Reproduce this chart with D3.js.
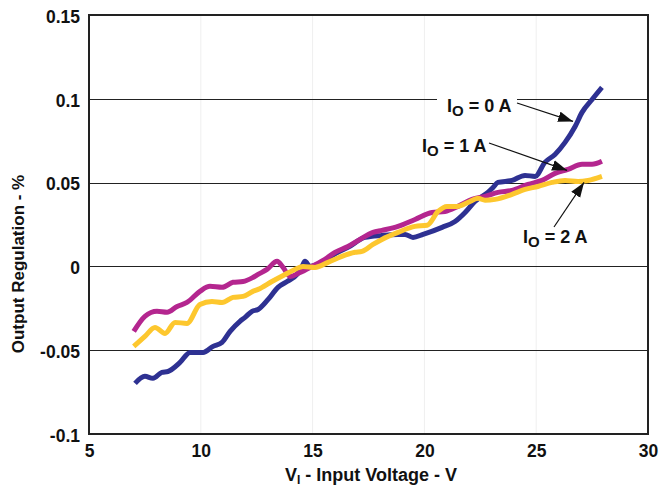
<!DOCTYPE html>
<html>
<head>
<meta charset="utf-8">
<script src="https://cdn.jsdelivr.net/npm/d3@7"></script>
<style>
  html, body { margin: 0; padding: 0; background: #fff; }
  svg { display: block; font-family: "Liberation Sans", Arial, sans-serif; }
</style>
</head>
<body>
<svg id="chart" width="660" height="489"></svg>
<script>
// ---- data ----
const xTicks = [5, 10, 15, 20, 25, 30];
const yTicks = [-0.1, -0.05, 0, 0.05, 0.1, 0.15];
const yTickLabels = ["-0.1", "-0.05", "0", "0.05", "0.1", "0.15"];

const io0X = [7.06, 7.5, 7.86, 8.26, 8.53, 9.07, 9.52, 10.1, 10.55, 10.95, 11.31, 11.75, 11.98, 12.29, 12.56, 13.01, 13.45, 13.86, 14.3, 14.53, 14.66, 14.88, 15.42, 16.0, 16.6, 17.34, 18.1, 18.8, 19.13, 19.49, 19.94, 20.79, 21.37, 21.82, 22.26, 22.84, 23.07, 23.29, 23.92, 24.5, 24.95, 25.39, 25.84, 26.29, 26.74, 27.05, 27.5, 27.94];
const io0Y = [-0.0698, -0.0656, -0.0668, -0.0632, -0.0627, -0.0573, -0.0513, -0.0513, -0.0477, -0.0453, -0.0388, -0.0328, -0.0304, -0.0268, -0.0257, -0.0197, -0.0125, -0.009, -0.0048, 0.0, 0.003, 0.0, 0.0024, 0.0075, 0.0115, 0.0173, 0.0185, 0.0191, 0.0191, 0.0173, 0.0191, 0.0233, 0.0268, 0.0322, 0.0388, 0.0442, 0.0471, 0.0501, 0.0513, 0.0543, 0.0537, 0.0621, 0.0668, 0.074, 0.0835, 0.0919, 0.0996, 0.1068];

const io1X = [7.0, 7.5, 8.04, 8.49, 8.94, 9.38, 9.96, 10.41, 10.95, 11.44, 11.89, 12.33, 12.56, 12.96, 13.41, 13.68, 13.99, 14.44, 14.97, 15.55, 16.0, 16.58, 17.12, 17.7, 18.1, 18.82, 19.58, 20.34, 20.92, 21.5, 22.13, 22.71, 23.29, 23.92, 24.63, 25.26, 25.84, 26.42, 27.05, 27.5, 27.94];
const io1Y = [-0.0388, -0.0298, -0.0268, -0.0274, -0.0239, -0.0215, -0.0149, -0.0119, -0.0125, -0.0095, -0.009, -0.0066, -0.0048, -0.0018, 0.003, -0.0006, -0.006, -0.0036, 0.0, 0.0042, 0.0084, 0.0119, 0.0161, 0.0203, 0.0215, 0.0239, 0.028, 0.0322, 0.0328, 0.0358, 0.04, 0.0418, 0.0442, 0.0453, 0.0489, 0.0513, 0.0555, 0.0579, 0.0609, 0.0609, 0.0627];

const io2X = [7.0, 7.5, 7.95, 8.4, 8.85, 9.38, 9.96, 10.5, 10.95, 11.44, 11.89, 12.33, 12.56, 13.18, 13.77, 14.21, 14.57, 15.11, 15.69, 16.31, 16.9, 17.21, 17.7, 18.1, 18.82, 19.58, 20.12, 20.61, 21.01, 21.46, 21.95, 22.4, 22.71, 23.16, 23.92, 24.5, 25.08, 25.71, 26.29, 26.87, 27.32, 27.94];
const io2Y = [-0.0477, -0.0418, -0.0364, -0.04, -0.0334, -0.034, -0.0227, -0.0209, -0.0215, -0.0185, -0.0179, -0.0149, -0.0137, -0.009, -0.0048, -0.0018, 0.0, -0.0006, 0.0024, 0.006, 0.0084, 0.009, 0.0131, 0.0161, 0.0203, 0.0239, 0.0245, 0.0328, 0.0358, 0.0358, 0.0382, 0.0406, 0.0395, 0.04, 0.043, 0.0459, 0.0477, 0.0501, 0.0513, 0.0507, 0.0513, 0.0537];

const seriesNames = ["IO = 0 A", "IO = 1 A", "IO = 2 A"];
const seriesColors = ["#2E3192", "#B4268F", "#FDC72E"];

// ---- layout ----
const svg = d3.select("#chart");
const M = { left: 89, top: 15, right: 648, bottom: 434 };
const x = d3.scaleLinear().domain([5, 30]).range([M.left, M.right]);
const y = d3.scaleLinear().domain([-0.1, 0.15]).range([M.bottom, M.top]);
const FONT = "Liberation Sans, Arial, sans-serif";

// faint vertical grid
svg.append("g").selectAll("line").data(xTicks.slice(1, -1)).join("line")
  .attr("x1", d => x(d)).attr("x2", d => x(d))
  .attr("y1", M.top).attr("y2", M.bottom)
  .attr("stroke", "#efefef").attr("stroke-width", 1);

// horizontal grid
svg.append("g").selectAll("line").data(yTicks.slice(1, -1)).join("line")
  .attr("x1", M.left).attr("x2", M.right)
  .attr("y1", d => Math.round(y(d)) + 0.5).attr("y2", d => Math.round(y(d)) + 0.5)
  .attr("stroke", "#222").attr("stroke-width", 1.2);

// axes labels
const yAxis = d3.axisLeft(y).tickValues(yTicks).tickSize(0).tickPadding(9)
  .tickFormat((d, i) => yTickLabels[i]);
const gy = svg.append("g").attr("transform", `translate(${M.left},0)`).call(yAxis);
gy.select(".domain").remove();
gy.selectAll("text").attr("font-size", 17.5).attr("font-weight", "bold").attr("fill", "#111")
  .attr("font-family", FONT).attr("dy", "0.42em");

const xAxis = d3.axisBottom(x).tickValues(xTicks).tickSize(0).tickPadding(11);
const gx = svg.append("g").attr("transform", `translate(0,${M.bottom})`).call(xAxis);
gx.select(".domain").remove();
gx.selectAll("text").attr("font-size", 17.5).attr("font-weight", "bold").attr("fill", "#111")
  .attr("font-family", FONT);

// lines
const line = d3.line().x(d => x(d[0])).y(d => y(d[1])).curve(d3.curveMonotoneX);
const series = [
  io0X.map((v, i) => [v, io0Y[i]]),
  io1X.map((v, i) => [v, io1Y[i]]),
  io2X.map((v, i) => [v, io2Y[i]])
];
svg.append("g").selectAll("path").data([0, 1, 2]).join("path")
  .attr("d", i => line(series[i]))
  .attr("fill", "none")
  .attr("stroke", i => seriesColors[i])
  .attr("stroke-width", 5)
  .attr("stroke-linejoin", "round");

// frame
svg.append("rect").attr("x", M.left).attr("y", M.top)
  .attr("width", M.right - M.left).attr("height", M.bottom - M.top)
  .attr("fill", "none").attr("stroke", "#222").attr("stroke-width", 2);

// annotations
svg.append("defs").append("marker")
  .attr("id", "ah").attr("viewBox", "0 0 14 10").attr("refX", 14).attr("refY", 5)
  .attr("markerWidth", 15).attr("markerHeight", 11).attr("markerUnits", "userSpaceOnUse")
  .attr("orient", "auto")
  .append("path").attr("d", "M0,0 L14,5 L0,10 Z").attr("fill", "#111");

const notes = [
  { s: 0, tx: 447, ty: 112, ax1: 517, ay1: 103, ax2: x(26.65), ay2: y(0.0865), bg: [437, 517] },
  { s: 1, tx: 422, ty: 152, ax1: 489, ay1: 143, ax2: x(26.38), ay2: y(0.0573), bg: null },
  { s: 2, tx: 523, ty: 243, ax1: 554, ay1: 227, ax2: x(27.14), ay2: y(0.0501), bg: null }
];
notes.forEach(n => {
  const g = svg.append("g");
  if (n.bg) {
    g.append("rect").attr("x", n.bg[0]).attr("y", n.ty - 20).attr("width", n.bg[1] - n.bg[0]).attr("height", 28).attr("fill", "#fff");
  }
  const t = g.append("text").attr("x", n.tx).attr("y", n.ty)
    .attr("font-size", 18).attr("font-weight", "bold").attr("fill", "#111").attr("font-family", FONT);
  const name = seriesNames[n.s];
  t.append("tspan").text(name.slice(0, 1));
  t.append("tspan").attr("font-size", 15).attr("dy", 4).text(name.slice(1, 2));
  t.append("tspan").attr("dy", -4).text(name.slice(2));
  g.append("line").attr("x1", n.ax1).attr("y1", n.ay1).attr("x2", n.ax2).attr("y2", n.ay2)
    .attr("stroke", "#111").attr("stroke-width", 1.2).attr("marker-end", "url(#ah)");
});

// axis titles
const xt = svg.append("text").attr("x", 371).attr("y", 481).attr("text-anchor", "middle")
  .attr("font-size", 18).attr("font-weight", "bold").attr("fill", "#111").attr("font-family", FONT);
xt.append("tspan").text("V");
xt.append("tspan").attr("font-size", 12).attr("dy", 3).text("I");
xt.append("tspan").attr("dy", -3).text(" - Input Voltage - V");

svg.append("text").attr("transform", "translate(24,264) rotate(-90)")
  .attr("text-anchor", "middle").attr("font-size", 17).attr("font-weight", "bold").attr("fill", "#111")
  .attr("font-family", FONT)
  .text("Output Regulation - %");
</script>
</body>
</html>
